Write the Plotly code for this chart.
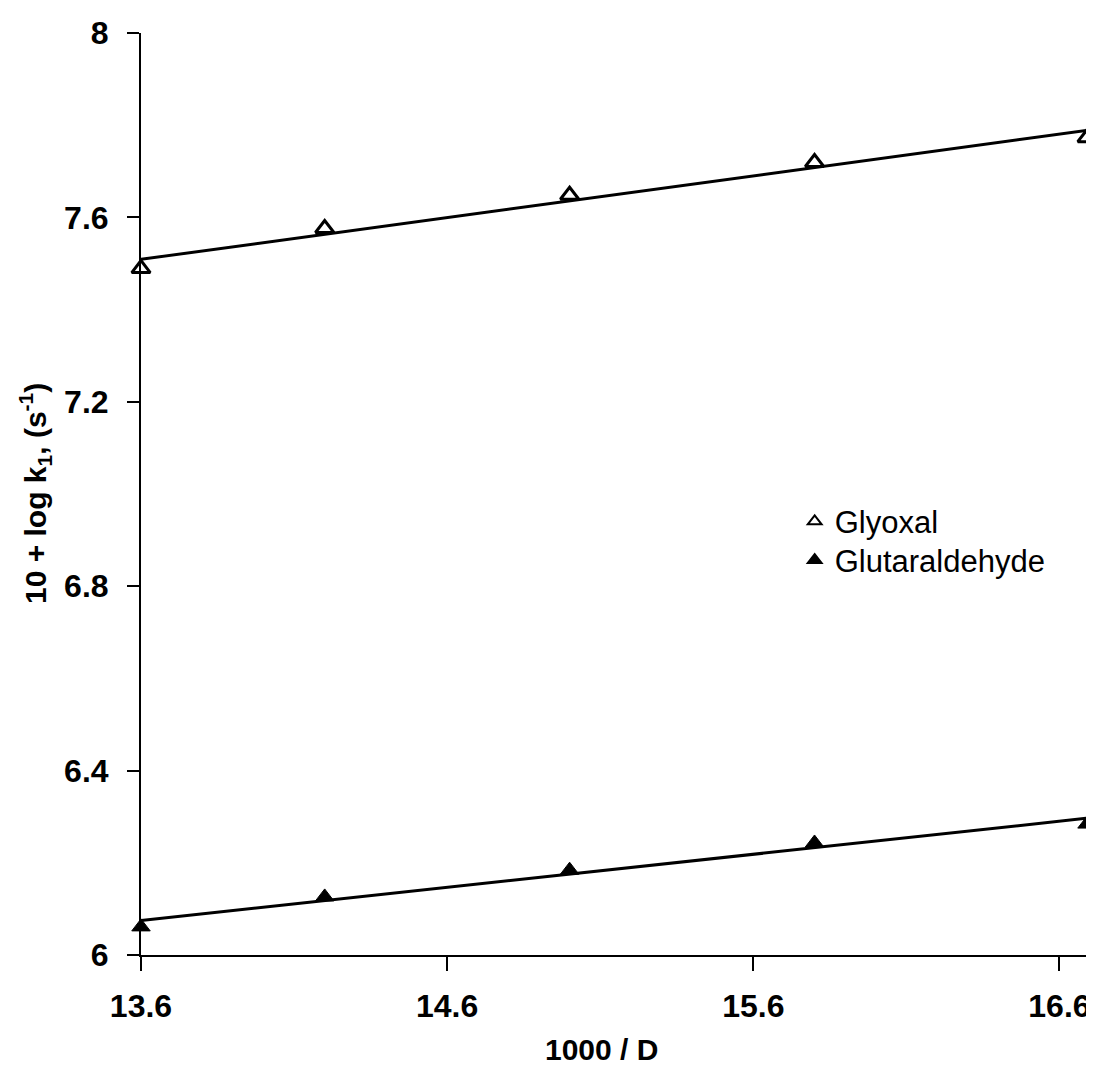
import numpy as np
import plotly.graph_objects as go

# Data
x_glyoxal = [13.6, 14.2, 15.0, 15.8, 16.69]
y_glyoxal = [7.489, 7.576, 7.648, 7.719, 7.773]

x_glutar = [13.6, 14.2, 15.0, 15.8, 16.69]
y_glutar = [6.061, 6.126, 6.184, 6.243, 6.284]

x_ticks = [13.6, 14.6, 15.6, 16.6]
y_ticks = [6, 6.4, 6.8, 7.2, 7.6, 8]
y_tick_text = ["6", "6.4", "6.8", "7.2", "7.6", "8"]

x_range = [13.6, 16.69]
y_range = [6, 8]

FONT = "Liberation Sans, Arial, sans-serif"

fig = go.Figure()

# trend lines (least-squares fits)
for xs, ys in [(x_glyoxal, y_glyoxal), (x_glutar, y_glutar)]:
    m, b = np.polyfit(xs, ys, 1)
    xl = np.array(x_range)
    fig.add_trace(go.Scatter(x=xl, y=m * xl + b, mode="lines",
                             line=dict(color="black", width=3),
                             showlegend=False, hoverinfo="skip", cliponaxis=False))

fig.add_trace(go.Scatter(x=x_glyoxal, y=y_glyoxal, mode="markers", name="Glyoxal",
                         legend="legend",
                         marker=dict(symbol="triangle-up-open", size=16, color="black",
                                     line=dict(width=3, color="black")),
                         cliponaxis=False))
fig.add_trace(go.Scatter(x=x_glutar, y=y_glutar, mode="markers", name="Glutaraldehyde",
                         legend="legend2",
                         marker=dict(symbol="triangle-up", size=16, color="black",
                                     line=dict(width=1, color="black")),
                         cliponaxis=False))

legend_common = dict(xanchor="left", yanchor="middle",
                     font=dict(size=31, family=FONT, color="black"),
                     bgcolor="rgba(0,0,0,0)", itemsizing="constant")

# The page body has an 8px margin, so the figure is shrunk to fit the window without scrolling
fig.update_layout(
    template="none",
    width=1086, height=1064,
    margin=dict(l=133, r=7, t=25, b=117, autoexpand=False),
    paper_bgcolor="white", plot_bgcolor="white",
    font=dict(family=FONT, color="black"),
    showlegend=True,
    legend=dict(x=0.691, y=0.470, **legend_common),
    legend2=dict(x=0.691, y=0.428, **legend_common),
    xaxis=dict(range=x_range, tickvals=x_ticks, ticktext=[str(v) for v in x_ticks],
               automargin=False,
               showgrid=False, zeroline=False, showline=True, linecolor="black", linewidth=2,
               ticks="outside", ticklen=14, tickwidth=2, tickcolor="black",
               ticklabelstandoff=8,
               tickfont=dict(size=32, family=FONT, color="black", weight="bold")),
    yaxis=dict(range=y_range, tickvals=y_ticks, ticktext=y_tick_text,
               automargin=False,
               showgrid=False, zeroline=False, showline=True, linecolor="black", linewidth=2,
               ticks="outside", ticklen=12, tickwidth=2, tickcolor="black",
               ticklabelstandoff=12,
               tickfont=dict(size=32, family=FONT, color="black", weight="bold")),
)

fig.add_annotation(
    text="<b>1000 / D</b>",
    xref="paper", yref="paper", x=0.487, y=-0.103,
    xanchor="center", yanchor="middle", showarrow=False,
    font=dict(size=30, family=FONT, color="black"),
)

fig.add_annotation(
    text="<b>10 + log k<sub>1</sub>, (s<sup>-1</sup>)</b>",
    xref="paper", yref="paper", x=-0.112, y=0.50,
    xanchor="center", yanchor="middle", textangle=-90, showarrow=False,
    font=dict(size=30, family=FONT, color="black"),
)

fig.write_html("out.html")
